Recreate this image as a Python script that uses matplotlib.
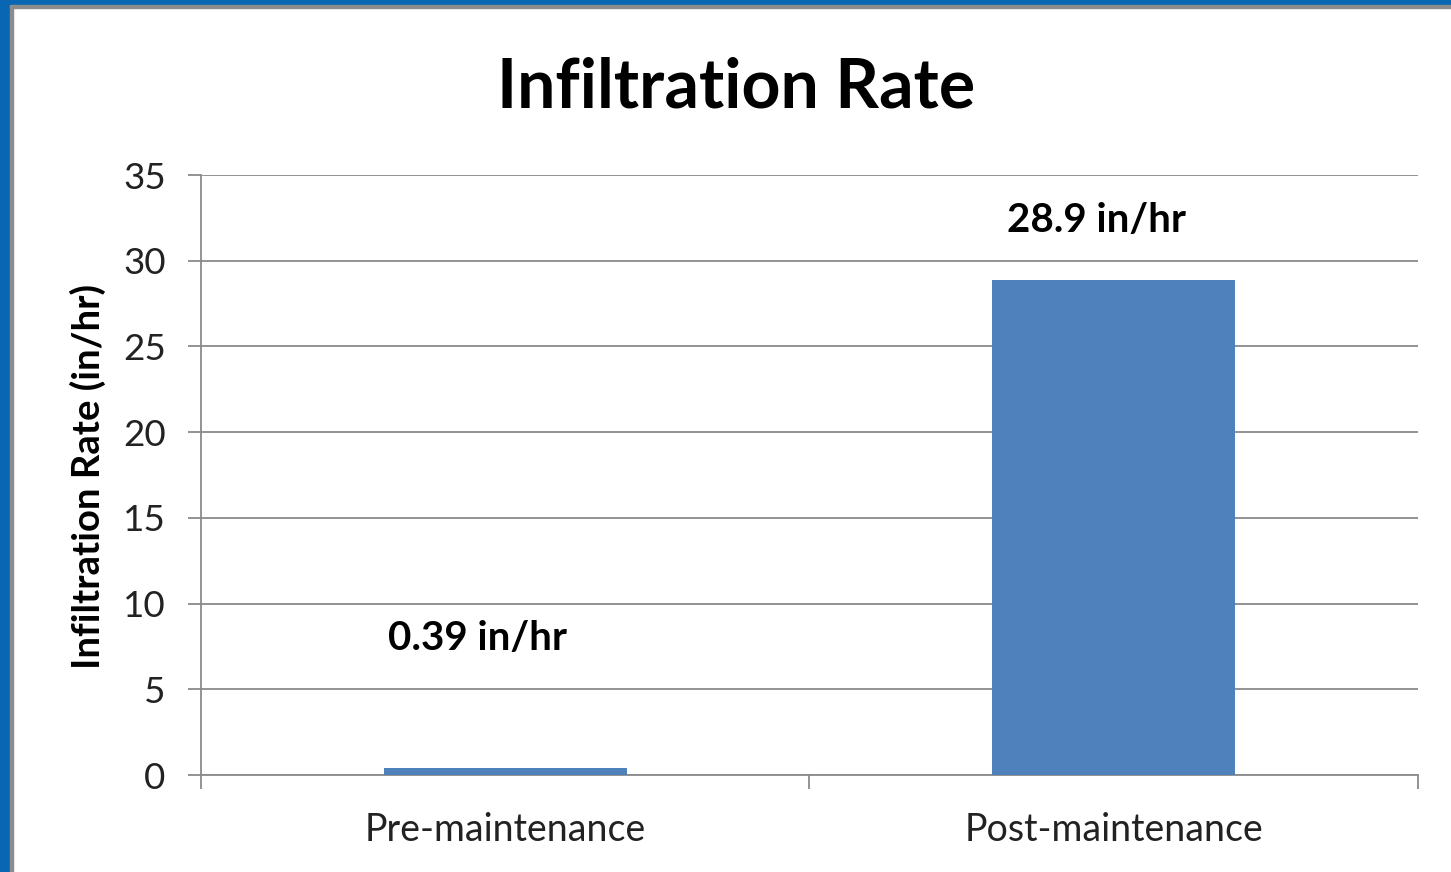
import matplotlib
matplotlib.use("Agg")
import matplotlib.pyplot as plt
from matplotlib.patches import Rectangle

categories = ["Pre-maintenance", "Post-maintenance"]
values = [0.39, 28.9]
value_labels = ["0.39 in/hr", "28.9 in/hr"]
yticks = [0, 5, 10, 15, 20, 25, 30, 35]
title = "Infiltration Rate"
ylabel = "Infiltration Rate (in/hr)"

plt.rcParams['font.family'] = ['Lato', 'DejaVu Sans']

W, H = 1451, 872
fig = plt.figure(figsize=(W / 100, H / 100), dpi=100)
fig.patch.set_facecolor("white")

# border (blue frame on left/top with gray shadow line)
fig.patches.append(Rectangle((0, 0), 10 / W, 1, transform=fig.transFigure, color="#0866B2", zorder=0))
fig.patches.append(Rectangle((10 / W, 0), 3 / W, 1 - 5 / H, transform=fig.transFigure, color="#8C8C8C", zorder=0))
fig.patches.append(Rectangle((0, 1 - 5 / H), 1, 5 / H, transform=fig.transFigure, color="#0866B2", zorder=0))
fig.patches.append(Rectangle((10 / W, 1 - 8 / H), 1, 3 / H, transform=fig.transFigure, color="#8C8C8C", zorder=0))

x0, x1 = 201, 1418
y0, y1 = 175, 775
ax = fig.add_axes([x0 / W, 1 - y1 / H, (x1 - x0) / W, (y1 - y0) / H])

xs = list(range(len(categories)))
ax.bar(xs, values, width=0.4, color="#4F81BD", zorder=3)

ax.set_xlim(-0.5, len(categories) - 0.5)
ax.set_ylim(0, 35)
ax.set_yticks(yticks)
ax.set_yticklabels([str(t) for t in yticks], fontsize=26.5, color="#222222")
ax.yaxis.grid(True, color="#8A8A8A", linewidth=1.3, zorder=0)
ax.set_axisbelow(True)

ax.set_xticks([i - 0.5 for i in range(len(categories) + 1)], minor=False)
ax.set_xticklabels([])
ax.set_xticks(xs, minor=True)
ax.set_xticklabels(categories, minor=True, fontsize=27, color="#222222")
ax.tick_params(axis="x", which="minor", length=0, pad=26.5)
ax.tick_params(axis="x", which="major", length=10, width=1.3, color="#8A8A8A", direction="out")
ax.tick_params(axis="y", length=9.4, width=1.3, color="#8A8A8A", direction="out", pad=16)

for s in ["top", "right"]:
    ax.spines[s].set_visible(False)
for s in ["left", "bottom"]:
    ax.spines[s].set_color("#8A8A8A")
    ax.spines[s].set_linewidth(1.3)

label_dx = [-0.046, -0.028]
label_dy = [7.55, 3.47]
for x, v, lab, dx, dy in zip(xs, values, value_labels, label_dx, label_dy):
    ax.text(x + dx, v + dy, lab, ha="center", va="center",
            fontsize=29, fontweight="bold", color="black")

fig.text(88 / W, 1 - 476.5 / H, ylabel, rotation=90, ha="center", va="center",
         fontsize=27.5, fontweight="bold")
fig.text(736 / W, 1 - 108 / H, title, ha="center", va="baseline", fontsize=49, fontweight="bold")

fig.savefig("out.png", dpi=100)
